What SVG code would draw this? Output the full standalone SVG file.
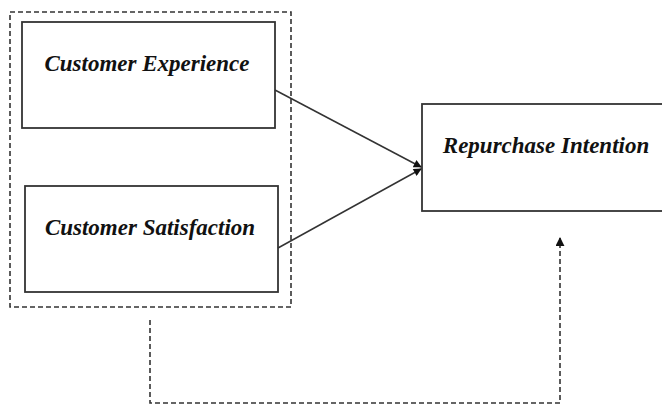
<svg xmlns="http://www.w3.org/2000/svg" width="662" height="405" viewBox="0 0 662 405">
<style>
.box{fill:#fff;stroke:#333;stroke-width:1.8}
.lbl{font-family:"Liberation Serif","Times New Roman",serif;font-style:italic;font-weight:bold;font-size:23px;fill:#111}
.dash{fill:none;stroke:#333;stroke-width:1.6;stroke-dasharray:5,3}
.conn{fill:none;stroke:#333;stroke-width:1.5}
</style>
<defs>
<marker id="ah" viewBox="0 0 10 10" refX="9" refY="5" markerWidth="9" markerHeight="8" orient="auto" markerUnits="userSpaceOnUse">
<path d="M0,0 L10,5 L0,10 z" fill="#111"/>
</marker>
<marker id="ah2" viewBox="0 0 10 10" refX="9" refY="5" markerWidth="9" markerHeight="9" orient="auto" markerUnits="userSpaceOnUse">
<path d="M0,0 L10,5 L0,10 z" fill="#111"/>
</marker>
</defs>
<g id="group-box">
<rect class="dash" x="10" y="12" width="281" height="295"/>
</g>
<g id="customer-experience">
<rect class="box" x="22" y="22" width="253" height="106"/>
<text class="lbl" x="147" y="71" text-anchor="middle">Customer Experience</text>
</g>
<g id="customer-satisfaction">
<rect class="box" x="25" y="186" width="253" height="106"/>
<text class="lbl" x="150" y="235" text-anchor="middle">Customer Satisfaction</text>
</g>
<g id="repurchase-intention">
<rect class="box" x="422" y="104" width="245" height="107"/>
<text class="lbl" x="546" y="153" text-anchor="middle">Repurchase Intention</text>
</g>
<g id="connectors">
<line class="conn" x1="275" y1="90" x2="421" y2="167" marker-end="url(#ah)"/>
<line class="conn" x1="278" y1="248" x2="421" y2="169" marker-end="url(#ah)"/>
<polyline class="dash" points="150,320 150,403 560,403 560,238" marker-end="url(#ah2)"/>
</g>
</svg>
